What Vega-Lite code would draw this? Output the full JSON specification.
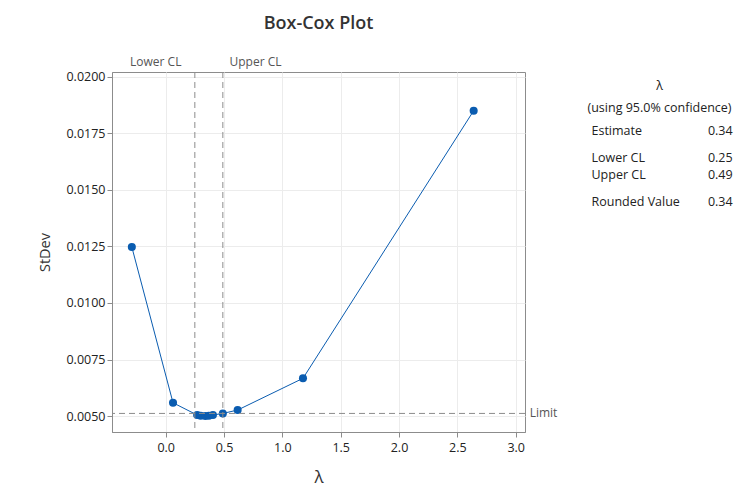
{
  "$schema": "https://vega.github.io/schema/vega-lite/v6.json",
  "autosize": {"type": "none"},
  "width": 413,
  "height": 360,
  "padding": {"left": 112, "top": 72, "right": 228, "bottom": 71},
  "background": "white",
  "config": {
    "font": "Open Sans",
    "view": {"stroke": "#8c8c8c", "strokeWidth": 1},
    "axis": {"gridColor": "#ececec", "domainColor": "#8c8c8c", "tickColor": "#8c8c8c", "labelColor": "#222", "labelFontSize": 12.5, "titleColor": "#333", "titleFontWeight": "normal"}
  },
  "title": {"text": "Box-Cox Plot", "fontSize": 18, "fontWeight": 600, "color": "#333", "offset": 23, "font": "Open Sans"},
  "datasets": {
    "curve": [
      {"lambda": -0.29, "stdev": 0.01247},
      {"lambda": 0.063, "stdev": 0.00559},
      {"lambda": 0.27, "stdev": 0.00505},
      {"lambda": 0.30, "stdev": 0.00502},
      {"lambda": 0.34, "stdev": 0.00501},
      {"lambda": 0.37, "stdev": 0.00502},
      {"lambda": 0.405, "stdev": 0.00505},
      {"lambda": 0.49, "stdev": 0.00512},
      {"lambda": 0.617, "stdev": 0.00527},
      {"lambda": 1.177, "stdev": 0.00667},
      {"lambda": 2.64, "stdev": 0.01849}
    ],
    "cl": [
      {"name": "Lower CL", "lambda": 0.25},
      {"name": "Upper CL", "lambda": 0.49}
    ]
  },
  "layer": [
    {
      "data": {"name": "curve"},
      "mark": {"type": "line", "color": "#0a5cb0", "strokeWidth": 1},
      "encoding": {
        "x": {"field": "lambda", "type": "quantitative", "scale": {"domain": [-0.46, 3.08], "nice": false, "zero": false},
          "axis": {"values": [0, 0.5, 1, 1.5, 2, 2.5, 3], "format": ".1f", "title": "λ", "titleFontSize": 17, "titlePadding": 16, "labelPadding": 4, "tickSize": 5}},
        "y": {"field": "stdev", "type": "quantitative", "scale": {"domain": [0.0043, 0.0202], "nice": false, "zero": false},
          "axis": {"values": [0.005, 0.0075, 0.01, 0.0125, 0.015, 0.0175, 0.02], "format": ".4f", "title": "StDev", "titleFontSize": 14.5, "titlePadding": 13, "tickSize": 5}}
      }
    },
    {
      "data": {"name": "curve"},
      "mark": {"type": "point", "filled": true, "color": "#0a5cb0", "size": 65, "opacity": 1},
      "encoding": {
        "x": {"field": "lambda", "type": "quantitative"},
        "y": {"field": "stdev", "type": "quantitative"}
      }
    },
    {
      "data": {"name": "cl"},
      "mark": {"type": "rule", "color": "#8c8c8c", "strokeDash": [6, 4], "strokeWidth": 1},
      "encoding": {"x": {"field": "lambda", "type": "quantitative"}}
    },
    {
      "data": {"values": [{"label": "Limit", "stdev": 0.00512}]},
      "layer": [
        {"mark": {"type": "rule", "color": "#8c8c8c", "strokeDash": [6, 4], "strokeWidth": 1},
         "encoding": {"y": {"field": "stdev", "type": "quantitative"}}},
        {"mark": {"type": "text", "align": "left", "baseline": "middle", "color": "#555", "fontSize": 12, "clip": false},
         "encoding": {"x": {"datum": 3.12}, "y": {"field": "stdev", "type": "quantitative"}, "text": {"field": "label"}}}
      ]
    },
    {
      "data": {"values": [{"t": "Lower CL"}]},
      "mark": {"type": "text", "align": "center", "baseline": "middle", "color": "#555", "fontSize": 12},
      "encoding": {"x": {"datum": -0.085}, "y": {"datum": 0.02066}, "text": {"field": "t"}}
    },
    {
      "data": {"values": [{"t": "Upper CL"}]},
      "mark": {"type": "text", "align": "center", "baseline": "middle", "color": "#555", "fontSize": 12},
      "encoding": {"x": {"datum": 0.77}, "y": {"datum": 0.02066}, "text": {"field": "t"}}
    },
    {
      "data": {"values": [{"t": "λ"}]},
      "mark": {"type": "text", "align": "center", "baseline": "middle", "color": "#222", "fontSize": 12.5},
      "encoding": {"x": {"datum": 4.233}, "y": {"datum": 0.01956}, "text": {"field": "t"}}
    },
    {
      "data": {"values": [{"t": "(using 95.0% confidence)"}]},
      "mark": {"type": "text", "align": "center", "baseline": "middle", "color": "#222", "fontSize": 12.5},
      "encoding": {"x": {"datum": 4.233}, "y": {"datum": 0.01863}, "text": {"field": "t"}}
    },
    {
      "data": {"values": [{"t": "Estimate", "v": "0.34"}]},
      "layer": [
        {"mark": {"type": "text", "align": "left", "baseline": "middle", "color": "#222", "fontSize": 12.5},
         "encoding": {"x": {"datum": 3.65}, "y": {"datum": 0.01761}, "text": {"field": "t"}}},
        {"mark": {"type": "text", "align": "right", "baseline": "middle", "color": "#222", "fontSize": 12.5},
         "encoding": {"x": {"datum": 4.86}, "y": {"datum": 0.01761}, "text": {"field": "v"}}}
      ]
    },
    {
      "data": {"values": [{"t": "Lower CL", "v": "0.25"}]},
      "layer": [
        {"mark": {"type": "text", "align": "left", "baseline": "middle", "color": "#222", "fontSize": 12.5},
         "encoding": {"x": {"datum": 3.65}, "y": {"datum": 0.01642}, "text": {"field": "t"}}},
        {"mark": {"type": "text", "align": "right", "baseline": "middle", "color": "#222", "fontSize": 12.5},
         "encoding": {"x": {"datum": 4.86}, "y": {"datum": 0.01642}, "text": {"field": "v"}}}
      ]
    },
    {
      "data": {"values": [{"t": "Upper CL", "v": "0.49"}]},
      "layer": [
        {"mark": {"type": "text", "align": "left", "baseline": "middle", "color": "#222", "fontSize": 12.5},
         "encoding": {"x": {"datum": 3.65}, "y": {"datum": 0.01566}, "text": {"field": "t"}}},
        {"mark": {"type": "text", "align": "right", "baseline": "middle", "color": "#222", "fontSize": 12.5},
         "encoding": {"x": {"datum": 4.86}, "y": {"datum": 0.01566}, "text": {"field": "v"}}}
      ]
    },
    {
      "data": {"values": [{"t": "Rounded Value", "v": "0.34"}]},
      "layer": [
        {"mark": {"type": "text", "align": "left", "baseline": "middle", "color": "#222", "fontSize": 12.5},
         "encoding": {"x": {"datum": 3.65}, "y": {"datum": 0.01447}, "text": {"field": "t"}}},
        {"mark": {"type": "text", "align": "right", "baseline": "middle", "color": "#222", "fontSize": 12.5},
         "encoding": {"x": {"datum": 4.86}, "y": {"datum": 0.01447}, "text": {"field": "v"}}}
      ]
    }
  ]
}
